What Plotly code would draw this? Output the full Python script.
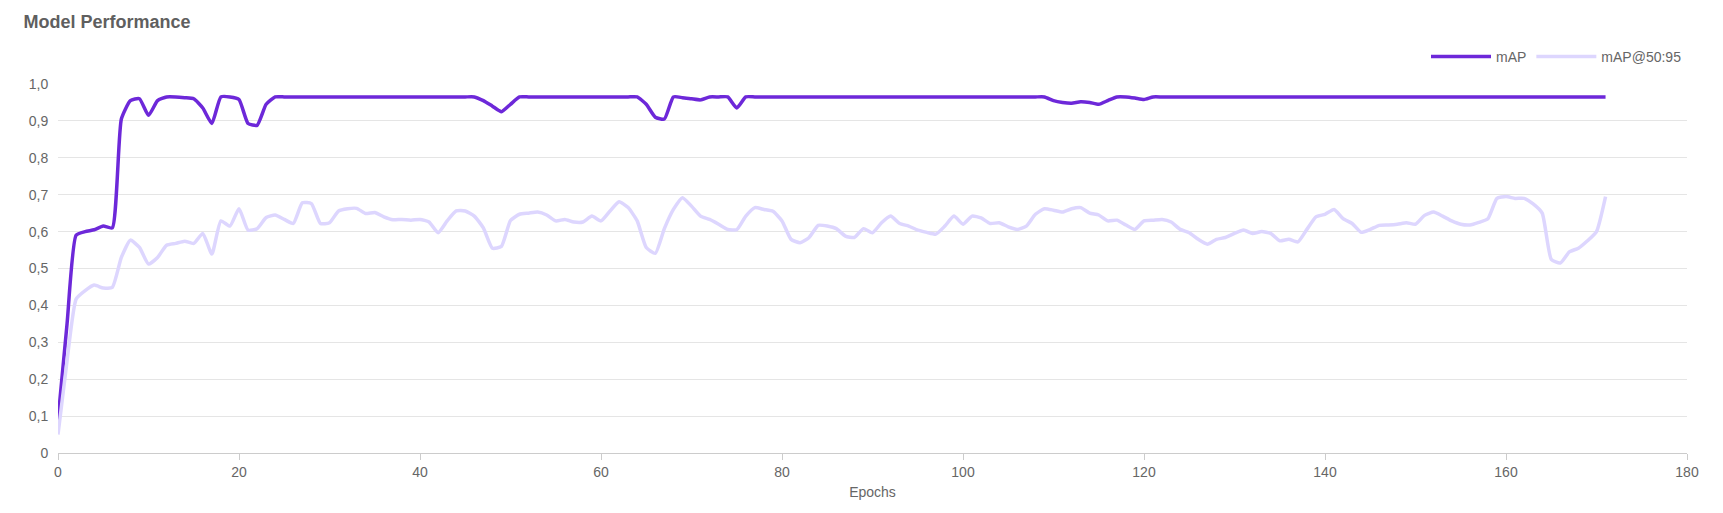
import plotly.graph_objects as go

epochs = list(range(172))

map_vals = [0.09, 0.35, 0.59, 0.60, 0.605, 0.615, 0.61, 0.905, 0.955, 0.96,
            0.915, 0.955, 0.965, 0.965, 0.963, 0.96, 0.935, 0.893, 0.965, 0.965,
            0.958, 0.893, 0.888, 0.945, 0.965] + [0.965] * 22 + \
           [0.955, 0.94, 0.925, 0.945, 0.965] + [0.965] * 13 + \
           [0.945, 0.91, 0.905, 0.965, 0.963, 0.96, 0.957, 0.965, 0.965, 0.965, 0.935, 0.965] + [0.965] * 33 + \
           [0.955, 0.95, 0.948, 0.952, 0.95, 0.945, 0.955, 0.965, 0.965, 0.962, 0.958] + [0.965] * 51

map5095_vals = [0.05, 0.25, 0.417, 0.44, 0.455, 0.447, 0.449, 0.53, 0.577, 0.557,
                0.512, 0.53, 0.563, 0.568, 0.574, 0.568, 0.595, 0.539, 0.629, 0.615,
                0.662, 0.604, 0.608, 0.638, 0.645, 0.633, 0.622, 0.678, 0.676, 0.622,
                0.624, 0.656, 0.662, 0.663, 0.649, 0.652, 0.64, 0.632, 0.633, 0.631,
                0.633, 0.626, 0.597, 0.629, 0.656, 0.656, 0.642, 0.61, 0.555, 0.56,
                0.63, 0.647, 0.65, 0.653, 0.645, 0.629, 0.633, 0.626, 0.626, 0.642,
                0.629, 0.656, 0.681, 0.665, 0.629, 0.557, 0.541, 0.608, 0.66, 0.692,
                0.669, 0.642, 0.633, 0.62, 0.606, 0.605, 0.642, 0.665, 0.66, 0.655,
                0.629, 0.579, 0.57, 0.584, 0.617, 0.615, 0.608, 0.588, 0.584, 0.608,
                0.597, 0.624, 0.642, 0.622, 0.615, 0.604, 0.598, 0.593, 0.615, 0.642,
                0.62, 0.642, 0.637, 0.622, 0.624, 0.613, 0.606, 0.615, 0.647, 0.662,
                0.658, 0.653, 0.662, 0.665, 0.65, 0.645, 0.629, 0.631, 0.618, 0.606,
                0.629, 0.631, 0.633, 0.626, 0.606, 0.597, 0.579, 0.566, 0.579, 0.584,
                0.595, 0.604, 0.595, 0.6, 0.595, 0.575, 0.579, 0.572, 0.606, 0.64,
                0.647, 0.66, 0.635, 0.622, 0.598, 0.606, 0.617, 0.618, 0.62, 0.624,
                0.62, 0.644, 0.653, 0.642, 0.629, 0.62, 0.618, 0.625, 0.635, 0.69,
                0.695, 0.69, 0.69, 0.675, 0.65, 0.525, 0.515, 0.545, 0.555, 0.575,
                0.6, 0.695]

y_ticks = [0, 0.1, 0.2, 0.3, 0.4, 0.5, 0.6, 0.7, 0.8, 0.9, 1.0]
y_labels = ["0", "0,1", "0,2", "0,3", "0,4", "0,5", "0,6", "0,7", "0,8", "0,9", "1,0"]

fig = go.Figure()
fig.add_trace(go.Scatter(x=epochs, y=map_vals, name="mAP", mode="lines",
                         line=dict(color="#6d28d9", width=3.5, shape="spline", smoothing=0.5)))
fig.add_trace(go.Scatter(x=epochs, y=map5095_vals, name="mAP@50:95", mode="lines",
                         line=dict(color="#ddd6fe", width=3.5, shape="spline", smoothing=0.5)))

fig.update_layout(
    width=1723, height=513,
    paper_bgcolor="white", plot_bgcolor="white",
    font=dict(family="Liberation Sans, Arial, sans-serif", size=14, color="#666"),
    title=dict(text="<b>Model Performance</b>", x=0.009, xanchor="left", y=0.985, yanchor="top",
               font=dict(size=18, color="#5f5f5f")),
    margin=dict(l=50, r=44, t=76, b=68),
    legend=dict(orientation="h", x=1, xanchor="right", y=1.03, yanchor="bottom",
                font=dict(size=14, color="#666"), itemwidth=60),
    showlegend=True,
    xaxis=dict(range=[0, 180], dtick=20, showgrid=False, showline=True, linecolor="#ccc",
               ticks="outside", tickcolor="#ccc", ticklen=6, zeroline=False,
               title=dict(text="Epochs", font=dict(size=14, color="#666"), standoff=8)),
    yaxis=dict(range=[0, 1.0], tickvals=y_ticks, ticktext=y_labels, showgrid=True,
               gridcolor="#e5e5e5", zeroline=False, showline=False, ticks="outside",
               tickcolor="white", ticklen=6),
)

fig.write_html("out.html")
